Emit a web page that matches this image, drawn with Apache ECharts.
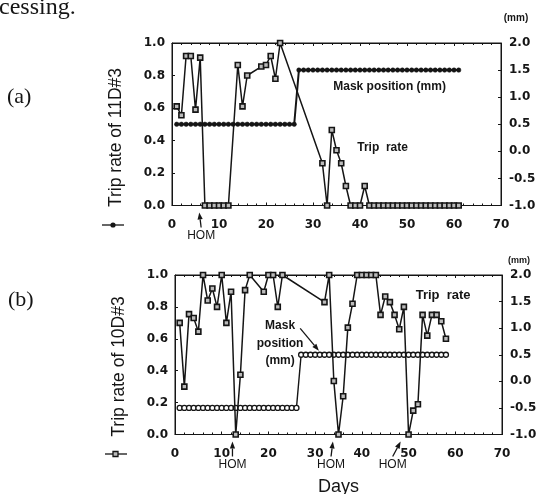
<!DOCTYPE html>
<html>
<head>
<meta charset="utf-8">
<script src="https://cdn.jsdelivr.net/npm/echarts@6/dist/echarts.min.js"></script>
<style>
html, body { margin: 0; padding: 0; background: #fff; }
#chart { width: 550px; height: 494px; }
</style>
</head>
<body>
<div id="chart"></div>
<script>
// panel (a): 11D#3
const tripDaysA = [1, 2, 3, 4, 5, 6, 7, 8, 9, 10, 11, 12, 14, 15, 16, 19, 20, 21, 22, 23,
  32, 33, 34, 35, 36, 37, 38, 39, 40, 41, 42, 43, 44, 45, 46, 47, 48, 49, 50, 51,
  52, 53, 54, 55, 56, 57, 58, 59, 60, 61];
const tripValsA = [0.61, 0.555, 0.92, 0.92, 0.59, 0.91, 0, 0, 0, 0, 0, 0, 0.865, 0.61, 0.80, 0.855, 0.865, 0.92, 0.78, 1.0,
  0.26, 0, 0.465, 0.34, 0.26, 0.12, 0, 0, 0, 0.12, 0, 0, 0, 0, 0, 0, 0, 0, 0, 0,
  0, 0, 0, 0, 0, 0, 0, 0, 0, 0];
const maskDaysA = [1, 2, 3, 4, 5, 6, 7, 8, 9, 10, 11, 12, 13, 14, 15, 16, 17, 18, 19, 20,
  21, 22, 23, 24, 25, 26, 27, 28, 29, 30, 31, 32, 33, 34, 35, 36, 37, 38, 39, 40,
  41, 42, 43, 44, 45, 46, 47, 48, 49, 50, 51, 52, 53, 54, 55, 56, 57, 58, 59, 60, 61];
const maskValsA = [0.5, 0.5, 0.5, 0.5, 0.5, 0.5, 0.5, 0.5, 0.5, 0.5, 0.5, 0.5, 0.5, 0.5, 0.5, 0.5, 0.5, 0.5, 0.5, 0.5,
  0.5, 0.5, 0.5, 0.5, 0.5, 0.5, 1.5, 1.5, 1.5, 1.5, 1.5, 1.5, 1.5, 1.5, 1.5, 1.5, 1.5, 1.5, 1.5, 1.5,
  1.5, 1.5, 1.5, 1.5, 1.5, 1.5, 1.5, 1.5, 1.5, 1.5, 1.5, 1.5, 1.5, 1.5, 1.5, 1.5, 1.5, 1.5, 1.5, 1.5, 1.5];

// panel (b): 10D#3
const tripDaysB = [1, 2, 3, 4, 5, 6, 7, 8, 9, 10, 11, 12, 13, 14, 15, 16, 19, 20, 21, 22, 23,
  32, 33, 34, 35, 36, 37, 38, 39, 40, 41, 42, 43, 44, 45, 46, 47, 48, 49, 50,
  51, 52, 53, 54, 55, 56, 57, 58];
const tripValsB = [0.70, 0.30, 0.755, 0.73, 0.645, 1.0, 0.84, 0.915, 0.80, 1.0, 0.70, 0.895, 0, 0.375, 0.905, 1.0, 0.895, 1.0, 1.0, 0.80, 1.0,
  0.83, 1.0, 0.335, 0, 0.24, 0.67, 0.82, 1.0, 1.0, 1.0, 1.0, 1.0, 0.75, 0.865, 0.83, 0.75, 0.66, 0.80, 0,
  0.15, 0.19, 0.75, 0.62, 0.75, 0.75, 0.71, 0.60];
const maskDaysB = [1, 2, 3, 4, 5, 6, 7, 8, 9, 10, 11, 12, 13, 14, 15, 16, 17, 18, 19, 20,
  21, 22, 23, 24, 25, 26, 27, 28, 29, 30, 31, 32, 33, 34, 35, 36, 37, 38, 39, 40,
  41, 42, 43, 44, 45, 46, 47, 48, 49, 50, 51, 52, 53, 54, 55, 56, 57, 58];
const maskValsB = [-0.5, -0.5, -0.5, -0.5, -0.5, -0.5, -0.5, -0.5, -0.5, -0.5, -0.5, -0.5, -0.5, -0.5, -0.5, -0.5, -0.5, -0.5, -0.5, -0.5,
  -0.5, -0.5, -0.5, -0.5, -0.5, -0.5, 0.5, 0.5, 0.5, 0.5, 0.5, 0.5, 0.5, 0.5, 0.5, 0.5, 0.5, 0.5, 0.5, 0.5,
  0.5, 0.5, 0.5, 0.5, 0.5, 0.5, 0.5, 0.5, 0.5, 0.5, 0.5, 0.5, 0.5, 0.5, 0.5, 0.5, 0.5, 0.5];

// HOM arrows: [tip day, text day]
const homA = [[5.8, 6.2]];
const homB = [[12.3, 12.3], [33.8, 33.4], [48.3, 46.6]];

const dayTicks = [0, 10, 20, 30, 40, 50, 60, 70];
const tripTicks = [0, 0.2, 0.4, 0.6, 0.8, 1.0];
const maskTicks = [-1.0, -0.5, 0, 0.5, 1.0, 1.5, 2.0];

const INK = "#151515";
const TICK_FONT = "DejaVu Sans";
const pairs = (xs, ys) => xs.map((x, i) => [x, ys[i]]);

const chart = echarts.init(document.getElementById("chart"));

function xAxis(grid, top) {
  return {
    type: "value",
    gridIndex: grid,
    position: top ? "top" : "bottom",
    min: dayTicks[0],
    max: dayTicks[dayTicks.length - 1],
    interval: 10,
    axisLine: { show: true, onZero: false, lineStyle: { color: INK, width: 1 } },
    axisTick: { show: true, inside: true, length: 3, lineStyle: { color: INK } },
    minorTick: { show: true, splitNumber: 5, length: 2, lineStyle: { color: INK } },
    splitLine: { show: false },
    axisLabel: {
      show: !top,
      margin: 13,
      color: INK,
      fontFamily: TICK_FONT,
      fontWeight: "bold",
      fontSize: 12
    }
  };
}

function yAxis(grid, right, ticks) {
  const step = ticks[1] - ticks[0];
  return {
    type: "value",
    gridIndex: grid,
    position: right ? "right" : "left",
    min: ticks[0],
    max: ticks[ticks.length - 1],
    interval: step,
    axisLine: { show: true, onZero: false, lineStyle: { color: INK, width: 1 } },
    axisTick: { show: true, inside: true, length: 3, lineStyle: { color: INK } },
    splitLine: { show: false },
    axisLabel: {
      margin: right ? 8 : 7,
      color: INK,
      fontFamily: TICK_FONT,
      fontWeight: "bold",
      fontSize: 12,
      formatter: (v) => v.toFixed(1)
    }
  };
}

const tripStyle = () => ({
  type: "line",
  symbol: "rect",
  symbolSize: 5,
  lineStyle: { color: INK, width: 1.5 },
  itemStyle: { color: "#bbb", borderColor: INK, borderWidth: 1.6 },
  animation: false,
  z: 3
});

chart.setOption({
  backgroundColor: "#fff",
  animation: false,
  grid: [
    { left: 172, right: 49, top: 43, height: 162.5, show: true, borderColor: INK, borderWidth: 1 },
    { left: 175, right: 48, top: 275, height: 159.5, show: true, borderColor: INK, borderWidth: 1 }
  ],
  xAxis: [xAxis(0, false), xAxis(0, true), xAxis(1, false), xAxis(1, true)],
  yAxis: [yAxis(0, false, tripTicks), yAxis(0, true, maskTicks), yAxis(1, false, tripTicks), yAxis(1, true, maskTicks)],
  series: [
    Object.assign(tripStyle(), { name: "Trip rate (a)", xAxisIndex: 0, yAxisIndex: 0, data: pairs(tripDaysA, tripValsA) }),
    {
      name: "Mask position (a)",
      type: "line",
      xAxisIndex: 0,
      yAxisIndex: 1,
      data: pairs(maskDaysA, maskValsA),
      symbol: "circle",
      symbolSize: 4.5,
      lineStyle: { color: INK, width: 2 },
      itemStyle: { color: INK, borderColor: INK, borderWidth: 0.5 },
      z: 2
    },
    Object.assign(tripStyle(), { name: "Trip rate (b)", xAxisIndex: 2, yAxisIndex: 2, data: pairs(tripDaysB, tripValsB) }),
    {
      name: "Mask position (b)",
      type: "line",
      xAxisIndex: 2,
      yAxisIndex: 3,
      data: pairs(maskDaysB, maskValsB),
      symbol: "circle",
      symbolSize: 5,
      lineStyle: { color: INK, width: 1.4 },
      itemStyle: { color: "#fff", borderColor: INK, borderWidth: 1.3 },
      z: 2
    }
  ]
});

// annotations, placed through the axes
const gx = (axis, day) => chart.convertToPixel({ xAxisIndex: axis }, day);
const gy = (axis, v) => chart.convertToPixel({ yAxisIndex: axis }, v);

function text(str, x, y, opts) {
  return {
    type: "text",
    x: x,
    y: y,
    rotation: (opts && opts.rotation) || 0,
    silent: true,
    style: Object.assign({
      text: str,
      fill: INK,
      font: "bold 12px 'Liberation Sans'",
      align: "center",
      verticalAlign: "middle"
    }, opts && opts.style)
  };
}

function arrow(x1, y1, x2, y2) {
  const ang = Math.atan2(y2 - y1, x2 - x1);
  const L = 7, W = 2.6;
  const bx = x2 - L * Math.cos(ang), by = y2 - L * Math.sin(ang);
  const nx = -Math.sin(ang) * W, ny = Math.cos(ang) * W;
  return [
    { type: "line", silent: true, shape: { x1: x1, y1: y1, x2: bx, y2: by }, style: { stroke: INK, lineWidth: 1.3 } },
    { type: "polygon", silent: true, shape: { points: [[x2, y2], [bx + nx, by + ny], [bx - nx, by - ny]] }, style: { fill: INK } }
  ];
}

function homMarks(xAxisIdx, yAxisIdx, list) {
  const base = gy(yAxisIdx, 0);
  let out = [];
  list.forEach(([tip, lab]) => {
    const tx = gx(xAxisIdx, tip), lx = gx(xAxisIdx, lab);
    out = out.concat(arrow(lx, base + 22, tx, base + 7));
    out.push(text("HOM", lx, base + 30, { style: { font: "12px 'Liberation Sans'" } }));
  });
  return out;
}

function yName(str, yAxisIdx, xAxisIdx, squareMarker) {
  const bottom = gy(yAxisIdx, 0);
  const left = gx(xAxisIdx, 0);
  const cx = left - 56;
  const gyy = bottom + 19.5;
  const els = [
    text(str, cx, bottom - 68, { rotation: Math.PI / 2, style: { font: "17.5px 'Liberation Sans'" } }),
    { type: "line", silent: true, shape: { x1: cx - 14, y1: gyy, x2: cx + 8, y2: gyy }, style: { stroke: INK, lineWidth: 1.3 } }
  ];
  if (squareMarker) {
    els.push({ type: "rect", silent: true, shape: { x: cx - 6, y: gyy - 2.5, width: 5, height: 5 }, style: { fill: "#bbb", stroke: INK, lineWidth: 1.3 } });
  } else {
    els.push({ type: "circle", silent: true, shape: { cx: cx - 3, cy: gyy, r: 2.6 }, style: { fill: INK } });
  }
  return els;
}

const serif = (size) => ({ style: { font: size + "px 'Liberation Serif'", align: "left" } });

let elements = [
  text("cessing.", -1, 8, serif(24)),
  text("(a)", 7, 97, serif(22)),
  text("(b)", 8, 300, serif(22)),
  text("(mm)", gx(1, 70) + 15, 18, { style: { font: "bold 10px 'Liberation Sans'" } }),
  text("(mm)", gx(3, 70) + 17, 261, { style: { font: "bold 9px 'Liberation Sans'" } }),
  text("Days", gx(2, 35), 487, { style: { font: "18px 'Liberation Sans'" } }),
  text("Mask position (mm)", gx(0, 46.3), gy(0, 0.73)),
  text("Trip  rate", gx(0, 44.8), gy(0, 0.355)),
  text("Trip  rate", gx(2, 57.4), gy(2, 0.875), { style: { font: "bold 13px 'Liberation Sans'" } }),
  text("Mask", gx(2, 22.5), gy(2, 0.68)),
  text("position", gx(2, 22.5), gy(2, 0.57)),
  text("(mm)", gx(2, 22.5), gy(2, 0.46))
];
elements = elements
  .concat(arrow(gx(2, 26.8), gy(2, 0.665), gx(2, 30.8), gy(2, 0.525)))
  .concat(homMarks(0, 0, homA))
  .concat(homMarks(2, 2, homB))
  .concat(yName("Trip rate of 11D#3", 0, 0, false))
  .concat(yName("Trip rate of 10D#3", 2, 2, true));

chart.setOption({ graphic: { elements: elements } });
</script>
</body>
</html>
